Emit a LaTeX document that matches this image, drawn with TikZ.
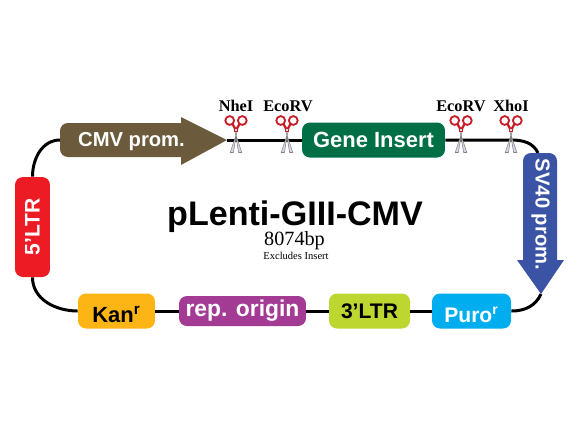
\documentclass[tikz,border=0pt]{standalone}
\usepackage{fontspec}
\setmainfont{Liberation Serif}
\setsansfont{Liberation Sans}
\usepackage{xcolor}
\definecolor{cmvbrown}{RGB}{107, 91, 60}
\definecolor{ltrred}{RGB}{237, 28, 36}
\definecolor{kanorange}{RGB}{253, 181, 21}
\definecolor{reppurple}{RGB}{163, 59, 148}
\definecolor{ltrlime}{RGB}{189, 214, 48}
\definecolor{purocyan}{RGB}{0, 174, 239}
\definecolor{svblue}{RGB}{58, 83, 164}
\definecolor{genegreen}{RGB}{0, 111, 69}
\definecolor{bladegrey}{RGB}{215, 215, 232}
\definecolor{cutred}{RGB}{200, 30, 40}
\usetikzlibrary{positioning}
\tikzset{
    feature/.style={rectangle, rounded corners=4.5pt, inner sep=0pt, font=\sffamily\bfseries\fontsize{12}{14}\selectfont},
    lowered/.style={text height=13pt, text depth=0pt},
    backbone/.style={line width=1.7pt, black},
    site/.style={font=\bfseries\fontsize{9.3}{11}\selectfont},
    pics/scissors/.style={code={
        \filldraw[bladegrey, draw=black!50, line width=0.3pt] (2.2,-1.5) -- (-5.8,22.5) -- (-2.6,22.5) -- (0.6,3) -- cycle;
        \filldraw[bladegrey, draw=black!50, line width=0.3pt] (-2.2,-1.5) -- (5.8,22.5) -- (2.6,22.5) -- (-0.6,3) -- cycle;
        \draw[cutred, line width=1.05pt] (-6.3,-9.5) circle (4.4) (6.3,-9.5) circle (4.4);
        \draw[cutred, line width=1.3pt] (-3.6,-6) -- (0,0) (3.6,-6) -- (0,0);
        \fill[cutred] (-1.8,-1.8) rectangle (1.8,1.8);
        \fill[bladegrey] (-0.7,-0.7) rectangle (0.7,0.7);
    }}
}
\begin{document}
\begin{tikzpicture}[x=0.02cm, y=-0.02cm]
    \useasboundingbox (0,0) rectangle (580,420);

    \coordinate (cmvtail) at (60,140);
    \coordinate (cmvtip) at (227,140);
    \coordinate (xhocut) at (511,140);
    \coordinate (svtop) at (538,153);
    \coordinate (svtip) at (541,294);

    % features
    \node[feature, fill=ltrred, text=white, rotate=90, minimum width=2cm, minimum height=0.7cm] (ltrfive) at (32.5,227) {5'LTR};
    \node[feature, fill=genegreen, text=white, minimum width=2.86cm, minimum height=0.7cm, font=\sffamily\bfseries\fontsize{12.5}{14}\selectfont] (gene) at (373.5,140) {Gene Insert};
    \node[feature, lowered, fill=kanorange, minimum width=1.54cm, minimum height=0.7cm, font=\sffamily\bfseries\fontsize{12.5}{14}\selectfont] (kan) at (116.5,311) {Kan\textsuperscript{r}};
    \node[feature, fill=reppurple, text=white, minimum width=2.54cm, minimum height=0.6cm, font=\sffamily\bfseries\fontsize{13}{14}\selectfont] (rep) at (242.5,311) {rep. origin};
    \node[feature, fill=ltrlime, minimum width=1.62cm, minimum height=0.7cm] (ltrthree) at (369.5,311) {3’LTR};
    \node[feature, lowered, fill=purocyan, text=white, minimum width=1.58cm, minimum height=0.7cm] (puro) at (471.5,311) {Puro\textsuperscript{r}};

    % backbone
    \draw[backbone] (cmvtip) -- (gene.west);
    \draw[backbone] (gene.east) -- (xhocut) to[out=0, in=115] (svtop);
    \draw[backbone] (cmvtail) to[out=180, in=90] (ltrfive.east);
    \draw[backbone] (ltrfive.west) to[out=-90, in=180] (kan.west);
    \draw[backbone] (kan) -- (rep);
    \draw[backbone] (rep) -- (ltrthree);
    \draw[backbone] (ltrthree) -- (puro);
    \draw[backbone] (puro.east) to[out=0, in=-115] (svtip);

    % promoter arrows
    \fill[cmvbrown, rounded corners=4.5pt] (181,157) -- (60,157) -- (60,123) [sharp corners] -- (181,123) -- (181,117) -- (cmvtip) -- (181,165) -- cycle;
    \node[font=\sffamily\bfseries\fontsize{11.5}{14}\selectfont, text=white] (cmv) at (131.5,142) {CMV prom.};
    \fill[svblue, rounded corners=4.5pt] (523,260) -- (523,153) -- (557,153) [sharp corners] -- (557,260) -- (564,260) -- (svtip) -- (517,260) -- cycle;
    \node[font=\sffamily\bfseries\fontsize{11.5}{14}\selectfont, text=white, rotate=-90] (sv) at (540.5,214.5) {SV40 prom.};

    % cut sites
    \pic at (236,130) {scissors};
    \pic at (287,130) {scissors};
    \pic at (461,130) {scissors};
    \pic at (511,130) {scissors};
    \node[site] (nhe) at (236,106) {NheI};
    \node[site] (ecoa) at (288,106) {EcoRV};
    \node[site] (ecob) at (461,106) {EcoRV};
    \node[site] (xho) at (511,106) {XhoI};

    % title
    \node[font=\sffamily\bfseries\fontsize{19.4}{22}\selectfont] (title) at (295,217) {pLenti-GIII-CMV};
    \node[font=\fontsize{11.5}{13}\selectfont] (size) at (294.5,241) {8074bp};
    \node[font=\fontsize{6}{7}\selectfont] (note) at (296,255.5) {Excludes Insert};
\end{tikzpicture}
\end{document}
